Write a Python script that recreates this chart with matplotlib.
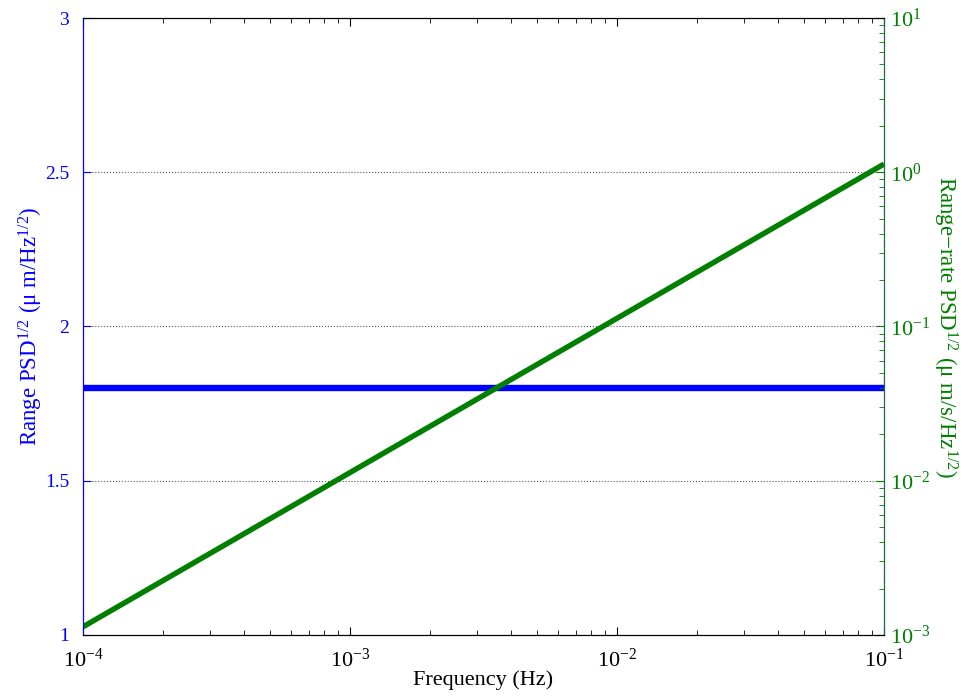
import matplotlib
matplotlib.use("Agg")
import matplotlib.pyplot as plt
from matplotlib.ticker import LogLocator, NullFormatter

plt.rcParams['font.family'] = ['Liberation Serif', 'DejaVu Serif']
plt.rcParams['mathtext.fontset'] = 'custom'
plt.rcParams['mathtext.rm'] = 'Liberation Serif'
plt.rcParams['mathtext.it'] = 'Liberation Serif:italic'
plt.rcParams['mathtext.bf'] = 'Liberation Serif:bold'

# data
freq = [1e-4, 1e-1]
range_psd = [1.8, 1.8]
rate_psd = [1.13e-3, 1.13]

blue = '#0000ff'
green = '#007f00'

fig = plt.figure(figsize=(9.69, 6.98), dpi=100)
ax = fig.add_axes([0.0857, 0.0903, 0.8266, 0.8839])
ax2 = ax.twinx()

ax.plot(freq, range_psd, color=blue, lw=4.6, solid_capstyle='butt')
ax2.plot(freq, rate_psd, color=green, lw=3.9, solid_capstyle='butt')

ax.set_xscale('log')
ax.set_xlim(1e-4, 1e-1)
ax.set_ylim(1, 3)
ax.set_yticks([1, 1.5, 2, 2.5, 3])
ax.set_yticklabels(['1', '1.5', '2', '2.5', '3'])
ax.yaxis.grid(True, linestyle=':', color='#555555', lw=0.8)

ax2.set_yscale('log')
ax2.set_ylim(1e-3, 1e1)
ax2.yaxis.set_major_locator(LogLocator(base=10, numticks=10))
ax2.yaxis.set_minor_locator(LogLocator(base=10, subs=range(2, 10), numticks=10))
ax2.yaxis.set_minor_formatter(NullFormatter())

ax.tick_params(axis='x', which='both', direction='in', top=True, labelsize=16, pad=10)
ax.tick_params(axis='x', which='major', length=6)
ax.tick_params(axis='x', which='minor', length=3.5)
ax.tick_params(axis='y', direction='in', colors=blue, labelsize=14, length=6, pad=10)
ax2.tick_params(axis='y', which='both', direction='in', colors=green, labelsize=16, pad=4)
ax2.tick_params(axis='y', which='major', length=6)
ax2.tick_params(axis='y', which='minor', length=3.5)

ax.spines['left'].set_color(blue)
ax2.spines['left'].set_color(blue)
ax2.spines['right'].set_color('#1a6a50')
for sp in ['top', 'bottom']:
    ax2.spines[sp].set_color('black')

ax.set_xlabel('Frequency (Hz)', fontsize=16, labelpad=-1)
ax.set_ylabel('Range PSD$^{1/2}$ (\u03bc m/Hz$^{1/2}$)', color=blue, fontsize=16.5, labelpad=0)
ax2.set_ylabel('Range\u2212rate PSD$^{1/2}$ (\u03bc m/s/Hz$^{1/2}$)', color=green,
               fontsize=16.5, rotation=270, labelpad=21)

fig.savefig('out.png', dpi=100)
